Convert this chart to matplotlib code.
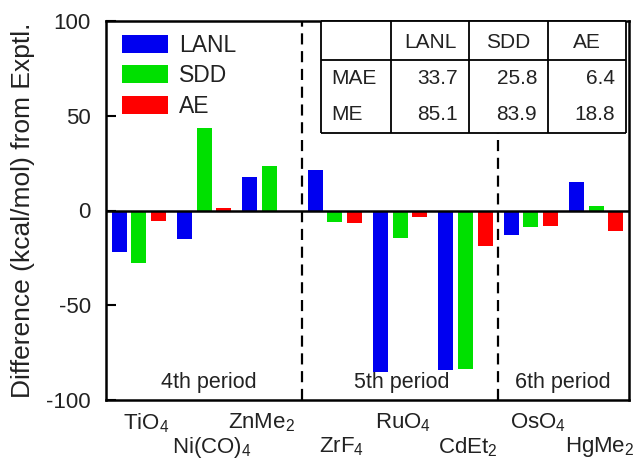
import matplotlib
matplotlib.use("Agg")
import matplotlib.pyplot as plt
from matplotlib.patches import Rectangle
import numpy as np

plt.rcParams['font.family'] = ['Liberation Sans', 'DejaVu Sans']
plt.rcParams['mathtext.fontset'] = 'custom'
plt.rcParams['mathtext.rm'] = 'Liberation Sans'
plt.rcParams['mathtext.it'] = 'Liberation Sans:italic'
plt.rcParams['mathtext.bf'] = 'Liberation Sans:bold'
plt.rcParams['mathtext.default'] = 'rm'
plt.rcParams['axes.unicode_minus'] = False

molecules = ['TiO$_4$', 'Ni(CO)$_4$', 'ZnMe$_2$', 'ZrF$_4$', 'RuO$_4$',
             'CdEt$_2$', 'OsO$_4$', 'HgMe$_2$']
lanl = [-21.7, -15.3, 17.5, 21.3, -85.1, -84.3, -12.7, 15.3]
sdd = [-27.5, 43.5, 23.4, -6.2, -14.5, -83.9, -8.8, 2.3]
ae = [-5.5, 1.4, -0.5, -6.7, -3.2, -18.8, -8.1, -11.0]
series_names = ['LANL', 'SDD', 'AE']
series_colors = ['#0000f0', '#00e000', '#ff0000']
periods = ['4th period', '5th period', '6th period']
table_rows = ['MAE', 'ME']
mae = [33.7, 25.8, 6.4]
me = [85.1, 83.9, 18.8]

TXT = '#222222'
fig = plt.figure(figsize=(6.37, 4.59), dpi=100)
ax = fig.add_axes([106/637, 59/459, 523/637, 379/459])

x = np.arange(len(molecules))
w = 0.23
for k, (vals, name, col) in enumerate(zip([lanl, sdd, ae], series_names, series_colors)):
    ax.bar(x + (k - 1) * 0.3, vals, width=w, color=col, label=name, zorder=2)

ax.axhline(0, color='black', lw=1.8, zorder=3)
for xv in [2.5, 5.5]:
    ax.axvline(xv, color='black', lw=1.6, ls=(0, (5, 3)), zorder=3)

ax.set_xlim(-0.5, 7.5)
ax.set_ylim(-100, 100)
ax.set_yticks([-100, -50, 0, 50, 100])
ax.tick_params(axis='y', direction='in', length=7, width=1.5, labelsize=16, pad=11)
for lab in ax.get_yticklabels():
    lab.set_color(TXT)
ax.set_xticks(x)
ax.set_xticklabels([])
ax.tick_params(axis='x', length=0)

# staggered molecule labels (manual horizontal nudges as in the original)
nudges = [7, 8, -7.5, 7, 2.5, 2, 7, 3]
for i, (lbl, dx) in enumerate(zip(molecules, nudges)):
    dy = -11 if i % 2 == 0 else -35
    ax.annotate(lbl, xy=(x[i], 0), xycoords=('data', 'axes fraction'),
                xytext=(dx, dy), textcoords='offset pixels', ha='center', va='top',
                fontsize=16, color=TXT, annotation_clip=False)

for s in ax.spines.values():
    s.set_linewidth(1.8)

ax.set_ylabel('Difference (kcal/mol) from Exptl.', fontsize=19, color=TXT, labelpad=8)

for px, lbl in zip([1.07, 4.02, 6.49], periods):
    ax.text(px, -96.5, lbl, ha='center', va='bottom', fontsize=15.5, color=TXT)

leg = ax.legend(loc='upper left', frameon=False, fontsize=16.5, handlelength=2.0,
                handleheight=0.85, handletextpad=0.5, labelspacing=0.33,
                borderaxespad=0.3, bbox_to_anchor=(0.0, 1.009))
for t in leg.get_texts():
    t.set_color(TXT)

# table drawn in pixel-like axes fraction coordinates
def px2ax(px, py):
    return ((px - 106) / 523, (400 - py) / 379)

cols = [321, 391, 469, 548, 626]
top, mid, bot = 21, 60, 133
tr = ax.transAxes
x0, y0 = px2ax(cols[0], bot)
x1, y1 = px2ax(cols[-1], top)
ax.add_patch(Rectangle((x0, y0), x1 - x0, y1 - y0, transform=tr, facecolor='white',
                       edgecolor='none', zorder=4))

def line(xa, ya, xb, yb):
    a = px2ax(xa, ya); b = px2ax(xb, yb)
    ax.plot([a[0], b[0]], [a[1], b[1]], transform=tr, color='black', lw=1.3, zorder=5,
            clip_on=False, solid_capstyle='butt')
for c in cols:
    line(c, top, c, bot)
line(cols[0], mid, cols[-1], mid)
line(cols[0], bot, cols[-1], bot)
line(cols[0], top, cols[-1], top)

hy = 42
for j, name in enumerate(series_names):
    cx = (cols[j + 1] + cols[j + 2]) / 2
    ax.text(*px2ax(cx, hy), name, transform=tr, ha='center', va='center', fontsize=15,
            color=TXT, zorder=6)
for rname, vals, ry in zip(table_rows, [mae, me], [79, 115]):
    ax.text(*px2ax(331, ry), rname, transform=tr, ha='left', va='center', fontsize=15,
            color=TXT, zorder=6)
    for j, v in enumerate(vals):
        ax.text(*px2ax(cols[j + 2] - 11, ry), f'{v:.1f}', transform=tr, ha='right',
                va='center', fontsize=15, color=TXT, zorder=6)

fig.savefig('out.png', dpi=100)
